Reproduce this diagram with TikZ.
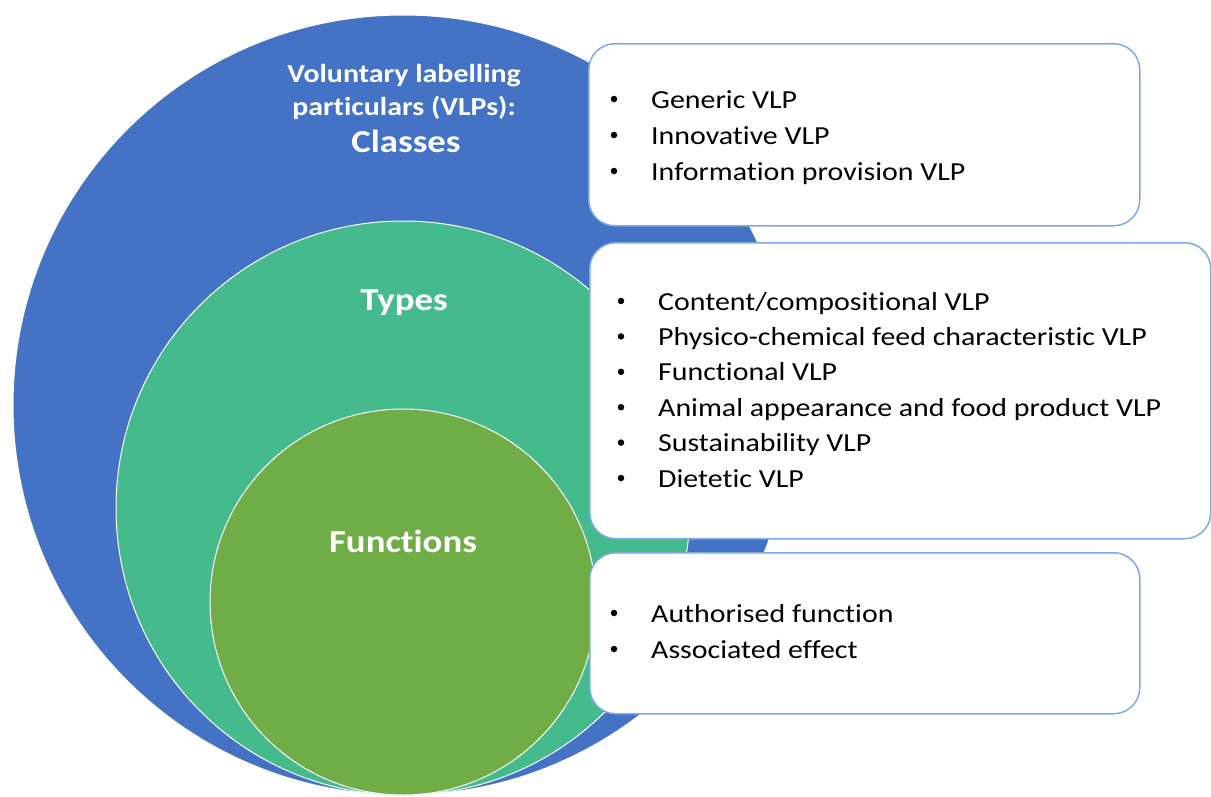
\documentclass[tikz,border=0pt]{standalone}
\usepackage{fontspec}
\setmainfont{Carlito}[FakeStretch=1.15, Ligatures={NoCommon}]
\definecolor{vlpblue}{HTML}{4472C4}
\definecolor{vlpteal}{HTML}{45BA8C}
\definecolor{vlpgreen}{HTML}{70AD47}
\definecolor{boxline}{HTML}{7DAAE0}

\begin{document}
\begin{tikzpicture}[x=1pt, y=-1pt,
    ring/.style={circle, draw=white, line width=1pt, inner sep=0pt},
    title/.style={text=white, font=\fontsize{26}{30}\selectfont\bfseries, anchor=base, inner sep=0pt},
    bigtitle/.style={title, font=\fontsize{32}{36}\selectfont\bfseries},
    listbox/.style={draw=boxline, line width=1.5pt, fill=white, rounded corners=26pt, anchor=north west, inner sep=0pt},
    item/.style={font=\fontsize{26}{30}\selectfont, anchor=base west, inner sep=0pt},
    dot/.style={circle, fill=black, minimum size=6.5pt, inner sep=0pt}]
  \useasboundingbox (0,0) rectangle (1211,796);

  % nested circles
  \node[ring, fill=vlpblue, minimum size=780pt, name=classes] at (403,405) {};
  \node[ring, fill=vlpteal, minimum size=574pt, name=types] at (403,508) {};
  \node[ring, fill=vlpgreen, minimum size=386pt, name=functions] at (403,602) {};

  \node[title, name=classtitle] at (404,82) {Voluntary labelling};
  \node[title, name=classtitle2] at (404,115) {particulars (VLPs):};
  \node[bigtitle, name=classtitle3] at (406,152) {Classes};
  \node[bigtitle, name=typetitle] at (404,310) {Types};
  \node[bigtitle, name=functitle] at (403,552) {Functions};

  % boxes
  \node[listbox, minimum width=551pt, minimum height=182pt, name=classbox] at (588,43) {};
  \node[listbox, minimum width=621pt, minimum height=296pt, name=typebox] at (589,242) {};
  \node[listbox, minimum width=550pt, minimum height=161pt, name=funcbox] at (589,552) {};

  \foreach \txt [count=\i] in {Generic VLP, Innovative VLP, Information provision VLP} {
    \node[dot, name=clsdot\i] at (614,63+36*\i) {};
    \node[item, name=cls\i] at (651,72+36*\i) {\txt};
  }
  \foreach \txt [count=\i] in {Content/compositional VLP, Physico-chemical feed characteristic VLP,
      Functional VLP, Animal appearance and food product VLP, Sustainability VLP, Dietetic VLP} {
    \node[dot, name=typdot\i] at (621,265.6+35.4*\i) {};
    \node[item, name=typ\i] at (658,274.6+35.4*\i) {\txt};
  }
  \foreach \txt [count=\i] in {Authorised function, Associated effect} {
    \node[dot, name=fncdot\i] at (614,577+36*\i) {};
    \node[item, name=fnc\i] at (651,586+36*\i) {\txt};
  }
\end{tikzpicture}
\end{document}
